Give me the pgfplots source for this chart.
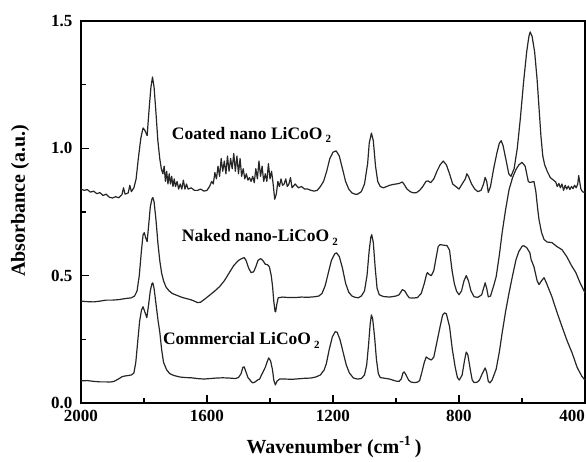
\documentclass[border=0pt]{standalone}
\usepackage{fontspec}
\setmainfont{Liberation Serif}
\usepackage{pgfplots}
\pgfplotsset{compat=1.18}
\newcommand{\subtwo}{\kern3pt\raisebox{-3.5pt}{\fontsize{11}{12}\selectfont 2}}
\begin{document}
\begin{tikzpicture}
\useasboundingbox (-81pt,-58pt) rectangle (505pt,403pt);
\begin{axis}[
  at={(0pt,0pt)}, anchor=south west,
  scale only axis, width=504pt, height=382pt,
  x dir=reverse,
  xmin=400, xmax=2000, ymin=0, ymax=1.5,
  xtick={400,800,1200,1600,2000},
  xticklabels={{\makebox[0pt][r]{400}},800,1200,1600,2000},
  ytick={0,0.5,1,1.5},
  minor x tick num=1, minor y tick num=1,
  tick pos=left, tick align=inside,
  major tick length=8pt, minor tick length=5pt,
  every tick/.style={line width=1.3pt, black},
  axis line style={line width=1.6pt},
  /pgf/number format/assume math mode=true,
  /pgf/number format/1000 sep={},
  yticklabel style={/pgf/number format/fixed, /pgf/number format/fixed zerofill, /pgf/number format/precision=1, font=\fontsize{17}{18}\selectfont\bfseries, xshift=-5pt},
  xticklabel style={font=\fontsize{17}{18}\selectfont\bfseries, yshift=-4pt},
  xlabel={Wavenumber (cm\textsuperscript{-1}\,)},
  ylabel={Absorbance (a.u.)},
  xlabel style={font=\fontsize{20}{22}\selectfont\bfseries, at={(axis description cs:0.502,-0.115)}, anchor=center},
  ylabel style={font=\fontsize{20}{22}\selectfont\bfseries, at={(axis description cs:-0.121,0.529)}, anchor=center, rotate=0},
  clip=false,
]
% Coated nano LiCoO2
\addplot[black!85, no markers, line width=1.2pt, line join=round] coordinates {
(2000,0.84)(1990,0.835)(1980,0.838)(1970,0.828)(1960,0.832)(1950,0.822)(1940,0.826)(1930,0.815)(1920,0.820)(1910,0.808)(1900,0.805)(1890,0.810)(1880,0.806)(1870,0.818)(1865,0.845)(1860,0.82)(1850,0.825)(1845,0.855)(1840,0.83)(1832,0.845)(1825,0.88)(1818,0.96)(1810,1.04)(1803,1.08)(1797,1.07)(1790,1.05)(1784,1.15)(1778,1.24)(1773,1.28)(1768,1.24)(1762,1.14)(1756,1.03)(1750,0.96)(1745,0.92)(1740,0.90)(1736,0.93)(1732,0.87)(1728,0.91)(1724,0.86)(1720,0.90)(1716,0.86)(1712,0.89)(1708,0.85)(1704,0.88)(1700,0.85)(1695,0.87)(1690,0.84)(1685,0.86)(1680,0.84)(1675,0.875)(1670,0.84)(1665,0.86)(1660,0.84)(1650,0.845)(1640,0.835)(1630,0.835)(1620,0.84)(1610,0.832)(1600,0.835)(1592,0.85)(1585,0.87)(1580,0.86)(1575,0.905)(1570,0.88)(1565,0.93)(1560,0.89)(1555,0.96)(1550,0.91)(1545,0.95)(1540,0.90)(1535,0.97)(1530,0.91)(1525,0.96)(1520,0.92)(1515,0.98)(1510,0.91)(1505,0.97)(1500,0.90)(1495,0.96)(1490,0.89)(1485,0.92)(1480,0.88)(1475,0.90)(1470,0.875)(1465,0.885)(1460,0.87)(1455,0.89)(1450,0.865)(1445,0.92)(1440,0.88)(1435,0.95)(1430,0.89)(1425,0.93)(1420,0.87)(1415,0.90)(1410,0.87)(1405,0.94)(1400,0.88)(1395,0.91)(1390,0.86)(1385,0.80)(1380,0.82)(1375,0.87)(1370,0.85)(1365,0.88)(1360,0.855)(1355,0.86)(1350,0.88)(1345,0.85)(1340,0.86)(1335,0.885)(1330,0.845)(1320,0.86)(1310,0.845)(1300,0.85)(1290,0.84)(1280,0.84)(1270,0.835)(1260,0.832)(1250,0.835)(1240,0.85)(1230,0.87)(1220,0.91)(1210,0.96)(1200,0.985)(1190,0.99)(1180,0.97)(1170,0.92)(1160,0.87)(1150,0.84)(1140,0.825)(1130,0.82)(1122,0.82)(1110,0.83)(1100,0.86)(1090,0.94)(1085,1.02)(1078,1.06)(1072,1.03)(1065,0.93)(1058,0.87)(1050,0.85)(1040,0.845)(1030,0.85)(1020,0.855)(1010,0.858)(1000,0.86)(990,0.862)(980,0.868)(975,0.86)(965,0.84)(955,0.83)(945,0.825)(935,0.826)(925,0.835)(915,0.85)(905,0.87)(898,0.872)(890,0.865)(880,0.88)(870,0.91)(860,0.935)(850,0.95)(840,0.935)(830,0.90)(820,0.86)(810,0.85)(800,0.84)(790,0.86)(780,0.88)(775,0.90)(770,0.89)(760,0.86)(750,0.84)(740,0.83)(730,0.835)(722,0.86)(717,0.886)(712,0.87)(707,0.827)(700,0.85)(690,0.92)(680,0.98)(672,1.02)(666,1.03)(660,1.01)(650,0.95)(642,0.90)(635,0.89)(625,0.92)(615,1.00)(605,1.12)(595,1.26)(585,1.38)(578,1.44)(574,1.457)(568,1.44)(560,1.38)(552,1.27)(546,1.16)(540,1.05)(534,0.97)(528,0.935)(520,0.91)(510,0.885)(500,0.875)(493,0.868)(488,0.85)(483,0.862)(478,0.845)(473,0.86)(468,0.835)(463,0.855)(458,0.84)(453,0.852)(448,0.838)(443,0.85)(438,0.842)(433,0.855)(428,0.845)(423,0.86)(420,0.893)(417,0.87)(413,0.84)(408,0.83)(403,0.827)(400,0.83)
};
% Naked nano-LiCoO2
\addplot[black!85, no markers, line width=1.2pt, line join=round] coordinates {
(2000,0.400)(1980,0.398)(1960,0.397)(1940,0.400)(1920,0.404)(1900,0.404)(1880,0.406)(1860,0.41)(1840,0.413)(1830,0.42)(1822,0.44)(1815,0.50)(1808,0.60)(1803,0.66)(1799,0.669)(1795,0.65)(1790,0.634)(1785,0.70)(1780,0.77)(1775,0.80)(1772,0.807)(1768,0.79)(1762,0.72)(1756,0.63)(1750,0.56)(1744,0.51)(1738,0.48)(1730,0.455)(1720,0.44)(1710,0.43)(1700,0.425)(1690,0.42)(1680,0.415)(1665,0.41)(1650,0.405)(1640,0.40)(1630,0.394)(1620,0.396)(1605,0.41)(1590,0.425)(1575,0.44)(1560,0.457)(1545,0.48)(1530,0.51)(1515,0.54)(1500,0.56)(1490,0.567)(1482,0.571)(1476,0.56)(1468,0.53)(1460,0.512)(1452,0.515)(1445,0.535)(1438,0.56)(1430,0.567)(1423,0.56)(1415,0.545)(1408,0.543)(1402,0.535)(1396,0.50)(1392,0.46)(1388,0.40)(1384,0.36)(1382,0.358)(1378,0.39)(1374,0.413)(1360,0.416)(1340,0.414)(1320,0.414)(1300,0.416)(1280,0.415)(1260,0.417)(1245,0.42)(1235,0.43)(1225,0.46)(1215,0.51)(1205,0.56)(1195,0.585)(1189,0.59)(1180,0.575)(1170,0.53)(1160,0.47)(1150,0.435)(1140,0.42)(1130,0.415)(1120,0.413)(1110,0.42)(1100,0.44)(1092,0.50)(1085,0.60)(1080,0.65)(1077,0.661)(1072,0.63)(1066,0.53)(1060,0.45)(1053,0.425)(1040,0.418)(1020,0.416)(1000,0.42)(990,0.425)(980,0.445)(972,0.44)(965,0.425)(958,0.413)(945,0.412)(932,0.414)(920,0.43)(910,0.47)(903,0.505)(900,0.512)(895,0.505)(888,0.50)(880,0.52)(872,0.575)(866,0.615)(860,0.622)(850,0.62)(838,0.618)(830,0.60)(822,0.52)(815,0.47)(808,0.44)(800,0.425)(792,0.44)(784,0.48)(777,0.50)(770,0.48)(762,0.44)(752,0.417)(740,0.415)(728,0.425)(722,0.45)(717,0.472)(712,0.45)(707,0.417)(700,0.42)(690,0.46)(682,0.496)(672,0.58)(663,0.669)(652,0.76)(641,0.838)(630,0.885)(619,0.917)(610,0.935)(600,0.945)(590,0.93)(580,0.87)(575,0.866)(568,0.868)(562,0.87)(556,0.83)(550,0.76)(546,0.72)(538,0.67)(530,0.642)(520,0.632)(505,0.63)(490,0.615)(473,0.602)(458,0.575)(443,0.54)(429,0.512)(415,0.47)(400,0.433)
};
% Commercial LiCoO2
\addplot[black!85, no markers, line width=1.2pt, line join=round] coordinates {
(2000,0.087)(1980,0.088)(1960,0.085)(1940,0.083)(1920,0.083)(1908,0.082)(1895,0.085)(1880,0.095)(1870,0.103)(1861,0.106)(1850,0.108)(1840,0.11)(1832,0.118)(1826,0.16)(1820,0.24)(1814,0.32)(1808,0.365)(1803,0.378)(1798,0.36)(1791,0.335)(1786,0.38)(1780,0.44)(1775,0.468)(1772,0.472)(1768,0.45)(1762,0.39)(1755,0.32)(1750,0.28)(1744,0.21)(1738,0.16)(1728,0.13)(1718,0.115)(1705,0.108)(1686,0.102)(1670,0.10)(1650,0.099)(1630,0.096)(1610,0.094)(1590,0.096)(1570,0.098)(1550,0.099)(1530,0.098)(1510,0.096)(1500,0.10)(1492,0.115)(1486,0.14)(1482,0.142)(1477,0.125)(1470,0.10)(1460,0.085)(1455,0.079)(1448,0.082)(1440,0.09)(1433,0.094)(1425,0.115)(1415,0.14)(1408,0.165)(1404,0.177)(1398,0.165)(1392,0.13)(1388,0.09)(1383,0.071)(1378,0.085)(1370,0.094)(1350,0.094)(1330,0.093)(1310,0.095)(1290,0.097)(1270,0.098)(1255,0.102)(1240,0.11)(1228,0.13)(1221,0.155)(1212,0.21)(1202,0.26)(1193,0.28)(1187,0.278)(1178,0.25)(1168,0.20)(1158,0.15)(1148,0.118)(1135,0.098)(1122,0.094)(1110,0.096)(1100,0.11)(1093,0.15)(1087,0.23)(1082,0.31)(1078,0.346)(1074,0.33)(1068,0.26)(1062,0.17)(1056,0.115)(1050,0.10)(1040,0.098)(1020,0.094)(1000,0.086)(990,0.085)(983,0.095)(978,0.118)(974,0.122)(968,0.11)(960,0.09)(952,0.082)(940,0.08)(932,0.082)(925,0.088)(918,0.12)(910,0.16)(904,0.181)(898,0.175)(888,0.169)(880,0.18)(870,0.24)(860,0.30)(852,0.345)(846,0.354)(840,0.35)(830,0.30)(821,0.209)(812,0.14)(805,0.10)(799,0.09)(790,0.11)(782,0.17)(777,0.20)(772,0.19)(764,0.13)(758,0.09)(752,0.08)(742,0.082)(735,0.09)(728,0.11)(722,0.125)(717,0.138)(712,0.12)(707,0.085)(702,0.079)(695,0.09)(682,0.133)(672,0.20)(663,0.275)(652,0.36)(641,0.433)(630,0.50)(619,0.563)(610,0.595)(600,0.615)(595,0.618)(585,0.61)(575,0.59)(571,0.563)(562,0.535)(552,0.48)(546,0.465)(538,0.48)(530,0.492)(522,0.47)(505,0.417)(490,0.36)(473,0.30)(457,0.245)(441,0.197)(425,0.14)(410,0.105)(400,0.09)
};
\node[anchor=base west, inner sep=0pt, font=\fontsize{17.5}{20}\selectfont\bfseries] at (axis cs:1712,1.035) {Coated nano LiCoO\subtwo};
\node[anchor=base west, inner sep=0pt, font=\fontsize{17.5}{20}\selectfont\bfseries] at (axis cs:1680,0.634) {Naked nano-LiCoO\subtwo};
\node[anchor=base west, inner sep=0pt, font=\fontsize{17.5}{20}\selectfont\bfseries] at (axis cs:1740,0.228) {Commercial LiCoO\subtwo};
\end{axis}
\end{tikzpicture}
\end{document}
